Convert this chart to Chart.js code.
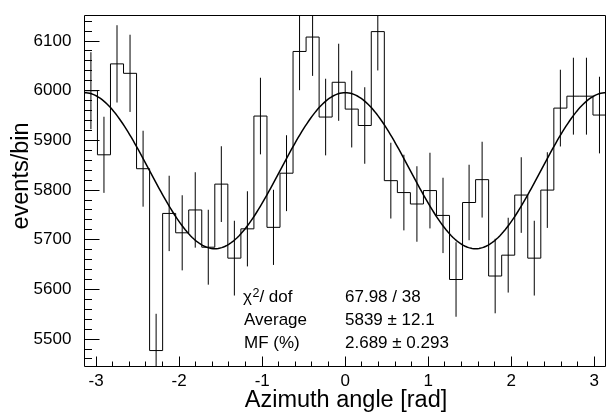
<!DOCTYPE html>
<html><head><meta charset="utf-8">
<script src="https://cdn.jsdelivr.net/npm/chart.js@4.4.1/dist/chart.umd.min.js"></script>
<style>html,body{margin:0;padding:0;background:#fff;}canvas{display:block}</style>
</head><body>
<canvas id="c" width="606" height="412"></canvas>
<script>
// ---- data ----
const counts = [6000, 5871, 6054, 6035, 5843, 5477, 5753, 5714, 5760, 5685,
                5812, 5663, 5722, 5949, 5725, 5834, 6079, 6108, 5947, 6017,
                5963, 5930, 6119, 5819, 5795, 5772, 5799, 5749, 5620, 5775,
                5821, 5627, 5669, 5790, 5663, 5800, 5965, 5989, 5989, 5951];
const xMin = -Math.PI, xMax = Math.PI;
const yMin = 5444.5, yMax = 6152;
const xTickValues = [-3, -2, -1, 0, 1, 2, 3];
const yTickValues = [5500, 5600, 5700, 5800, 5900, 6000, 6100];
const fitAverage = 5839;      // fit parameter "Average"
const fitMF = 2.689;          // fit parameter "MF (%)"
const statNames = ['χ', 'Average', 'MF (%)'];
const statValues = ['67.98 / 38', '5839 ± 12.1', '2.689 ± 0.293'];
const xTitle = 'Azimuth angle [rad]';
const yTitle = 'events/bin';

const FONT = '"Liberation Sans", Arial, Helvetica, sans-serif';
Chart.defaults.font.family = FONT;
Chart.defaults.color = '#000';

const nBins = counts.length;
const binW = (xMax - xMin) / nBins;

const histData = counts.map((v, i) => ({x: xMin + i * binW, y: v}));
histData.push({x: xMax, y: counts[nBins - 1]});

const errData = [];
counts.forEach((v, i) => {
  const c = xMin + (i + 0.5) * binW, e = Math.sqrt(v);
  errData.push({x: c, y: v - e}, {x: c, y: v + e}, {x: c, y: null});
});

const fitData = [];
for (let k = 0; k <= 300; k++) {
  const phi = xMin + k * (xMax - xMin) / 300;
  fitData.push({x: phi, y: fitAverage * (1 + fitMF / 100 * Math.cos(2 * phi))});
}

const decor = {
  id: 'decor',
  afterDraw(chart) {
    const {ctx, chartArea: a, scales: {x, y}} = chart;
    const W = chart.width;
    const L = Math.round(a.left - 0.5) + 0.5;
    const T = Math.round(a.top - 0.5) + 0.5;
    const B = Math.round(a.bottom - 0.5) + 0.5;
    const R = Math.min(Math.round(a.right - 0.5) + 0.5, W - 0.5);
    ctx.save();
    ctx.strokeStyle = '#000';
    ctx.lineWidth = 1;
    ctx.beginPath();
    ctx.rect(L, T, R - L, B - T);
    for (let v = 5460; v <= yMax; v += 20) {
      const py = Math.round(y.getPixelForValue(v) - 0.5) + 0.5;
      const len = (v % 100 === 0) ? 15 : 7.5;
      ctx.moveTo(L, py); ctx.lineTo(L + len, py);
    }
    for (let k = -15; k <= 15; k++) {
      const v = k / 5;
      const px = Math.round(x.getPixelForValue(v) - 0.5) + 0.5;
      const len = (k % 5 === 0) ? 10 : 5;
      ctx.moveTo(px, B); ctx.lineTo(px, B - len);
    }
    ctx.stroke();

    ctx.fillStyle = '#000';
    ctx.font = '23.5px ' + FONT;
    ctx.textAlign = 'center';
    ctx.textBaseline = 'alphabetic';
    ctx.fillText(xTitle, 346, 407);
    ctx.save();
    ctx.translate(28, 176);
    ctx.rotate(-Math.PI / 2);
    ctx.fillText(yTitle, 0, 0);
    ctx.restore();

    ctx.textAlign = 'left';
    ctx.font = '17px ' + FONT;
    const rows = [301.7, 324.7, 347.7];
    ctx.fillText(statNames[0], 243, rows[0]);
    let cx = 243 + ctx.measureText(statNames[0]).width;
    ctx.font = '12.5px ' + FONT;
    ctx.fillText('2', cx + 0.5, rows[0] - 5);
    cx += ctx.measureText('2').width + 0.5;
    ctx.font = '17px ' + FONT;
    ctx.fillText('/ dof', cx, rows[0]);
    ctx.fillText(statNames[1], 244, rows[1]);
    ctx.fillText(statNames[2], 244, rows[2]);
    statValues.forEach((s, i) => ctx.fillText(s, 345, rows[i]));
    ctx.restore();
  }
};

new Chart(document.getElementById('c'), {
  type: 'line',
  data: {
    datasets: [
      {data: histData, stepped: 'before', borderColor: '#000', borderWidth: 1,
       pointRadius: 0, fill: false, clip: 0},
      {data: errData, borderColor: '#000', borderWidth: 1, pointRadius: 0,
       spanGaps: false, fill: false, clip: 0},
      {data: fitData, borderColor: '#000', borderWidth: 1.5, pointRadius: 0,
       tension: 0, fill: false, clip: 0}
    ]
  },
  options: {
    responsive: false,
    animation: false,
    devicePixelRatio: 1,
    layout: {padding: {top: 13, right: 0, left: 0, bottom: 0}},
    plugins: {legend: {display: false}, tooltip: {enabled: false}},
    scales: {
      x: {
        type: 'linear', min: xMin, max: xMax,
        grid: {display: false}, border: {display: false},
        afterBuildTicks: s => { s.ticks = xTickValues.map(v => ({value: v})); },
        afterFit: s => { s.height = 45.3; },
        ticks: {font: {size: 17}, color: '#000', padding: -4, maxRotation: 0,
                autoSkip: false, callback: v => String(v)}
      },
      y: {
        type: 'linear', min: yMin, max: yMax,
        grid: {display: false}, border: {display: false},
        afterBuildTicks: s => { s.ticks = yTickValues.map(v => ({value: v})); },
        afterFit: s => { s.width = 84.4; },
        ticks: {font: {size: 17}, color: '#000', padding: 5,
                autoSkip: false, callback: v => String(v)}
      }
    }
  },
  plugins: [decor]
});
</script>
</body></html>
